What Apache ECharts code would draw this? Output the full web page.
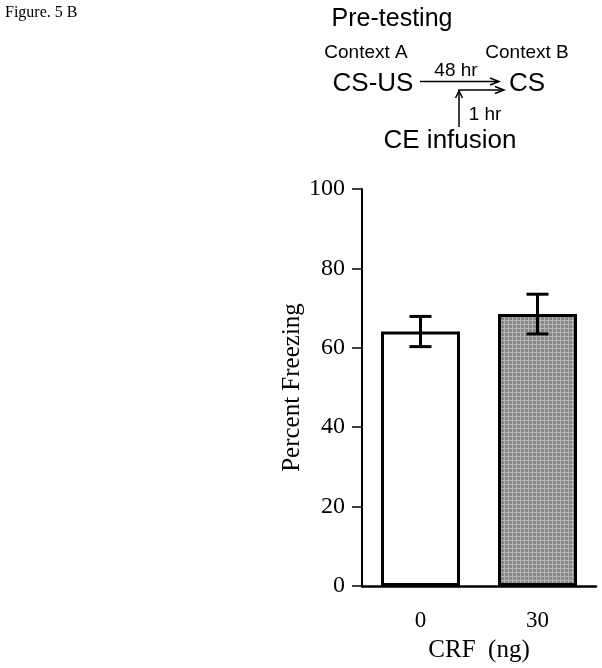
<!DOCTYPE html>
<html>
<head>
<meta charset="utf-8">
<script src="https://cdn.jsdelivr.net/npm/echarts@6/dist/echarts.min.js"></script>
<style>html,body{margin:0;padding:0;background:#fff}#c{width:602px;height:668px}</style>
</head>
<body>
<div id="c"></div>
<script>
// Data
const categories = ['0', '30'];
const means = [64.1, 68.5];
const errors = [3.8, 5.0];
const yTicks = [0, 20, 40, 60, 80, 100];

const chart = echarts.init(document.getElementById('c'), null, {renderer: 'canvas'});

// Grid-pattern fill for the CRF bar
const pc = document.createElement('canvas');
pc.width = 4; pc.height = 4;
const pctx = pc.getContext('2d');
pctx.fillStyle = '#878787'; pctx.fillRect(0, 0, 4, 4);
pctx.fillStyle = '#b4b4b4'; pctx.fillRect(0, 0, 4, 1); pctx.fillRect(0, 0, 1, 4);

const barFills = ['#ffffff', {image: pc, repeat: 'repeat'}];
const errData = means.map((m, i) => [i, m - errors[i], m + errors[i]]);

const serif = '"Liberation Serif", "Times New Roman", serif';
const sans = '"Liberation Sans", Arial, sans-serif';

function txt(text, x, y, size, family, align) {
  return {type: 'text', style: {text: text, x: x, y: y, font: size + 'px ' + family,
    fill: '#000', textAlign: align || 'center', textVerticalAlign: 'middle'}};
}
function ln(x1, y1, x2, y2) {
  return {type: 'line', shape: {x1, y1, x2, y2}, style: {stroke: '#000', lineWidth: 1.5}};
}
function pl(points) {
  return {type: 'polyline', shape: {points}, style: {stroke: '#000', lineWidth: 1.5, fill: null}};
}

chart.setOption({
  animation: false,
  backgroundColor: '#fff',
  grid: {left: 362, right: 6, top: 189, bottom: 82, containLabel: false},
  xAxis: {
    type: 'category',
    data: categories,
    name: 'CRF  (ng)',
    nameLocation: 'middle',
    nameGap: 52,
    nameTextStyle: {fontFamily: serif, fontSize: 25, color: '#000'},
    axisLine: {lineStyle: {color: '#000', width: 2.5}},
    axisTick: {show: false},
    axisLabel: {fontFamily: serif, fontSize: 23, color: '#000', margin: 23}
  },
  yAxis: {
    type: 'value',
    min: 0, max: 100, interval: 20,
    name: 'Percent Freezing',
    nameLocation: 'middle',
    nameGap: 57,
    nameTextStyle: {fontFamily: serif, fontSize: 25, color: '#000'},
    axisLine: {show: true, lineStyle: {color: '#000', width: 2}},
    axisTick: {show: true, inside: false, length: 10, lineStyle: {color: '#000', width: 1.5}},
    axisLabel: {fontFamily: serif, fontSize: 24, color: '#000', margin: 17,
      formatter: v => yTicks.includes(v) ? String(v) : ''},
    splitLine: {show: false}
  },
  series: [
    {
      type: 'bar',
      barWidth: 79,
      data: means.map((m, i) => ({value: m, itemStyle: {color: barFills[i], borderColor: '#000', borderWidth: 3}})),
      z: 2
    },
    {
      type: 'custom',
      data: errData,
      z: 5,
      renderItem: function (params, api) {
        const lo = api.coord([api.value(0), api.value(1)]);
        const hi = api.coord([api.value(0), api.value(2)]);
        const hw = 11;
        const st = {stroke: '#000', lineWidth: 3};
        return {type: 'group', children: [
          {type: 'line', shape: {x1: hi[0], y1: hi[1], x2: lo[0], y2: lo[1]}, style: st},
          {type: 'line', shape: {x1: hi[0] - hw, y1: hi[1], x2: hi[0] + hw, y2: hi[1]}, style: st},
          {type: 'line', shape: {x1: lo[0] - hw, y1: lo[1], x2: lo[0] + hw, y2: lo[1]}, style: st}
        ]};
      }
    }
  ],
  graphic: [
    txt('Figure. 5 B', 5, 13, 16, serif, 'left'),
    txt('Pre-testing', 392, 19, 25, sans),
    txt('Context A', 366, 53, 19, sans),
    txt('Context B', 527, 53, 19, sans),
    txt('CS-US', 373, 84, 26, sans),
    txt('CS', 527, 84, 26, sans),
    txt('48 hr', 456, 71, 19, sans),
    txt('1 hr', 485, 115, 19, sans),
    txt('CE infusion', 450, 141, 26, sans),
    ln(420, 81.5, 498, 81.5),
    pl([[490, 78], [499, 81.5], [490, 85]]),
    pl([[459, 127], [459, 90], [503, 90]]),
    pl([[495, 86.5], [504, 90], [495, 93.5]]),
    pl([[455.5, 98], [459, 91], [462.5, 98]])
  ]
});
</script>
</body>
</html>
